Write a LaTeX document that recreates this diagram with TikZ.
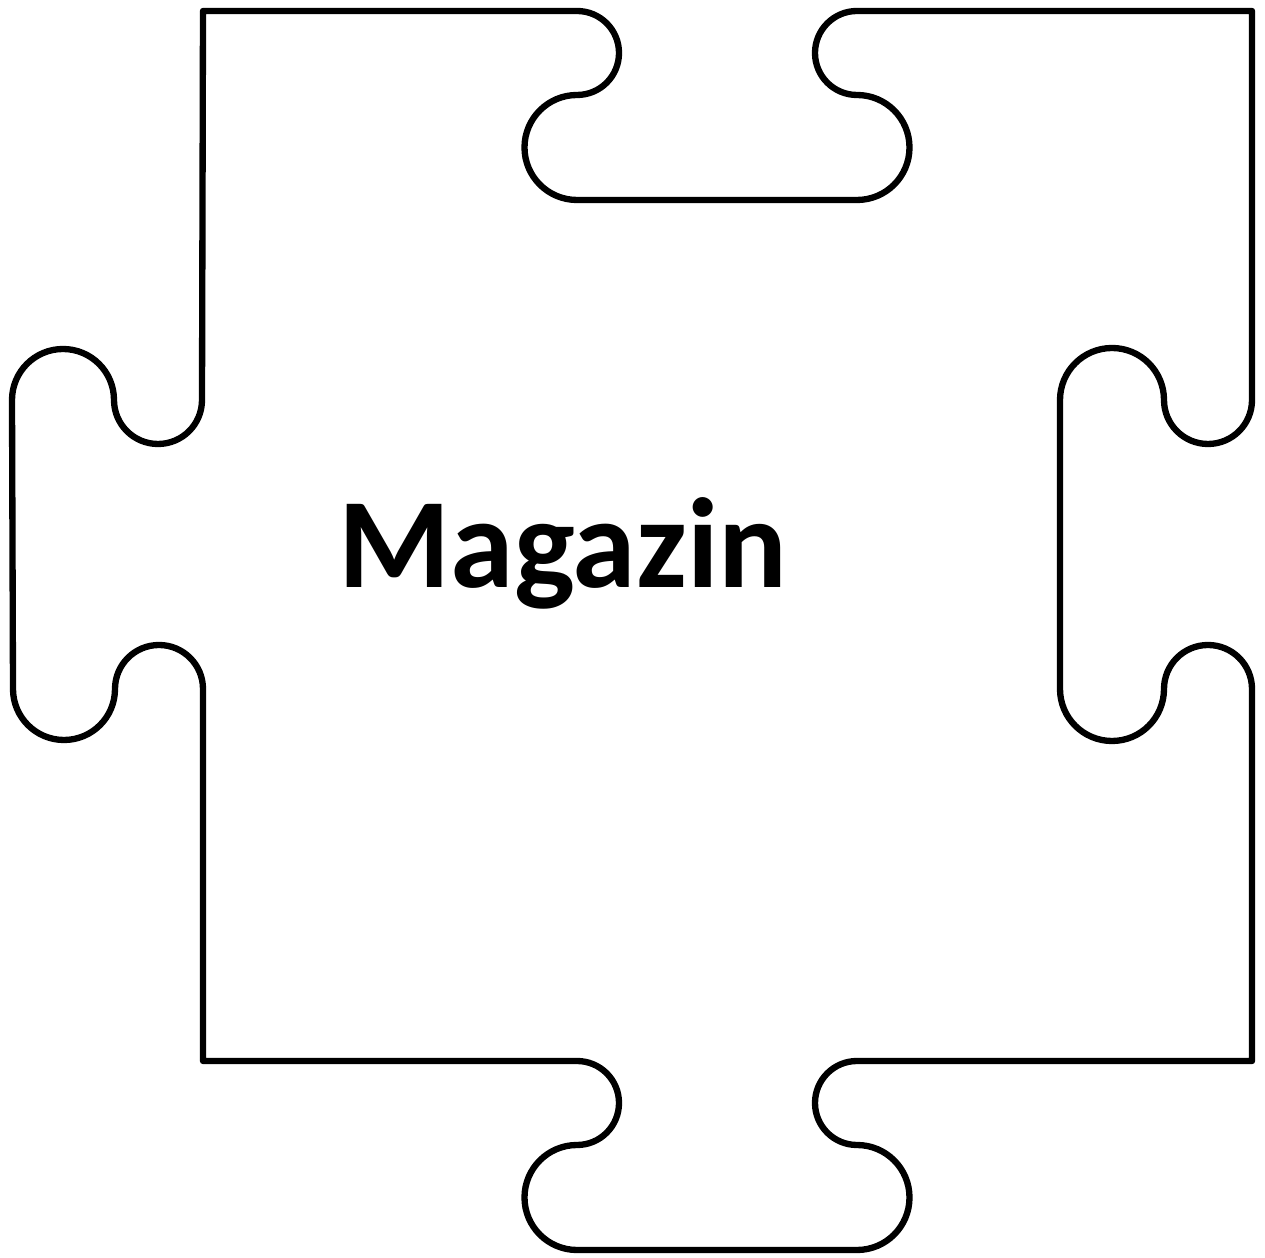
\documentclass[tikz,border=0pt]{standalone}
\usepackage{fontspec}
\setmainfont{Carlito}
\usetikzlibrary{positioning}
\tikzset{
  piece/.style={draw=black, line width=3.6pt, line join=round},
  label/.style={inner sep=0pt, font=\bfseries\fontsize{73}{80}\selectfont}
}

\begin{document}
\begin{tikzpicture}[x=0.02cm, y=0.02cm]
    \useasboundingbox (0,0) rectangle (1265,1258);
    \draw[piece] (203,1247) -- (577,1247) arc (90:-90:42) arc (90:270:52.5)
        -- (857,1058) arc (-90:90:52.5) arc (270:90:42) -- (1252,1247)
        -- (1252,858) arc (0:-180:44) arc (0:180:52) -- (1060,569)
        arc (180:360:52) arc (180:0:44) -- (1252,197)
        -- (857,197) arc (90:270:42) arc (90:-90:52.5) -- (577,8)
        arc (270:90:52.5) arc (-90:90:42) -- (203,197)
        -- (203,569) arc (0:180:44) arc (0:-180:51) -- (12,858)
        arc (180:0:51) arc (180:360:44) -- cycle;
    \node[label, anchor=base] (magazin) at (563,670) {Magazin};
\end{tikzpicture}
\end{document}
